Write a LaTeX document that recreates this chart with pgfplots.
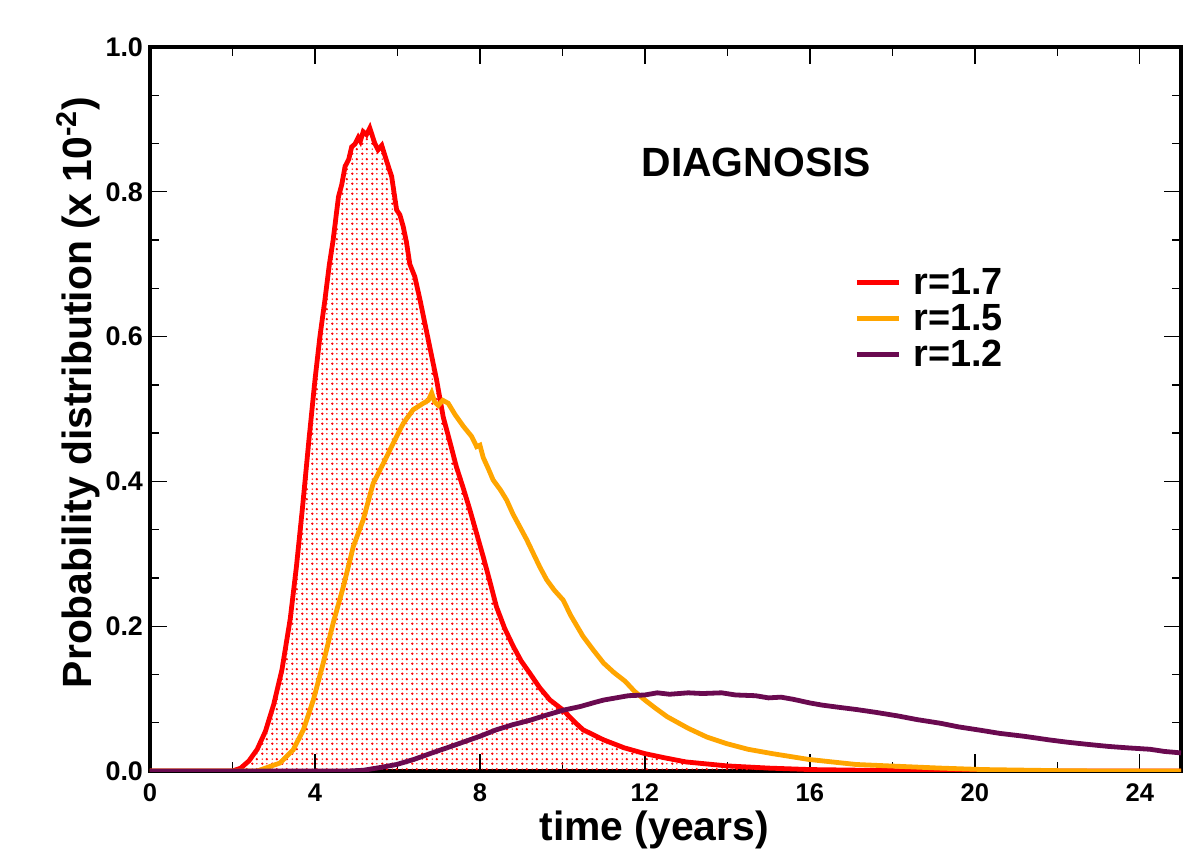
\documentclass[border=0pt]{standalone}
\usepackage{pgfplots}
\pgfplotsset{compat=1.18}
\usepackage{pgfplotstable}
\usepackage{fontspec}
\setmainfont{Liberation Sans}
\usetikzlibrary{patterns}
\definecolor{cRed}{RGB}{255,0,0}
\definecolor{cOrange}{RGB}{255,165,0}
\definecolor{cPurple}{RGB}{106,10,80}
\pgfdeclarepatternformonly{mydots}{\pgfqpoint{0bp}{0bp}}{\pgfqpoint{5bp}{5bp}}{\pgfqpoint{5bp}{5bp}}{%
  \pgfpathcircle{\pgfqpoint{1.25bp}{1.25bp}}{0.7bp}%
  \pgfpathcircle{\pgfqpoint{3.75bp}{3.75bp}}{0.7bp}%
  \pgfpathcircle{\pgfqpoint{3.75bp}{1.25bp}}{0.4bp}%
  \pgfpathcircle{\pgfqpoint{1.25bp}{3.75bp}}{0.4bp}%
  \pgfusepath{fill}}

\pgfplotstableread{
x y
0 0
2.0 0
2.2 0.004
2.4 0.014
2.6 0.030
2.8 0.055
3.0 0.092
3.2 0.14
3.4 0.21
3.55 0.282
3.7 0.365
3.85 0.455
4.0 0.54
4.12 0.60
4.24 0.65
4.35 0.70
4.44 0.733
4.57 0.793
4.65 0.81
4.73 0.835
4.82 0.845
4.89 0.862
4.97 0.866
5.05 0.875
5.1 0.87
5.17 0.883
5.25 0.879
5.33 0.888
5.45 0.867
5.53 0.858
5.62 0.864
5.74 0.842
5.86 0.821
5.98 0.775
6.06 0.768
6.14 0.752
6.22 0.73
6.30 0.70
6.42 0.683
6.55 0.65
6.75 0.595
6.95 0.54
7.11 0.489
7.27 0.455
7.43 0.42
7.6 0.39
7.76 0.36
7.92 0.328
8.08 0.296
8.24 0.262
8.40 0.227
8.6 0.197
8.81 0.172
9.0 0.152
9.21 0.135
9.45 0.115
9.70 0.098
10.02 0.084
10.29 0.068
10.5 0.057
11.0 0.043
11.5 0.032
12.0 0.024
12.5 0.018
13.0 0.0125
14.0 0.007
15.0 0.004
16.0 0.002
18 0.0005
20 0
25 0
}\redtab

\pgfplotstableread{
x y
0 0
2.6 0
2.75 0.003
3.15 0.011
3.47 0.029
3.72 0.057
3.96 0.098
4.2 0.149
4.44 0.204
4.69 0.255
4.93 0.31
5.17 0.347
5.41 0.397
5.66 0.425
5.9 0.453
6.14 0.48
6.38 0.499
6.63 0.508
6.75 0.512
6.83 0.522
6.9 0.51
6.99 0.505
7.1 0.512
7.23 0.508
7.4 0.492
7.6 0.476
7.8 0.462
7.92 0.448
8.0 0.45
8.08 0.433
8.2 0.418
8.32 0.402
8.5 0.388
8.65 0.374
8.8 0.355
8.97 0.337
9.13 0.32
9.29 0.301
9.45 0.282
9.62 0.264
9.8 0.25
10.02 0.236
10.2 0.215
10.5 0.186
10.75 0.167
11.0 0.149
11.25 0.136
11.52 0.124
11.75 0.11
12.0 0.098
12.25 0.087
12.54 0.075
13.05 0.059
13.5 0.047
13.97 0.038
14.5 0.030
15.09 0.024
15.97 0.016
17.12 0.009
17.93 0.007
19.16 0.004
20.2 0.002
22 0.0005
23 0
25 0
}\orangetab

\pgfplotstableread{
x y
0 0
4.8 0
5.17 0.001
5.6 0.005
5.98 0.009
6.4 0.016
6.79 0.024
7.2 0.032
7.6 0.040
8.0 0.048
8.4 0.057
8.8 0.064
9.21 0.070
9.6 0.077
10.02 0.084
10.43 0.089
10.8 0.095
11.0 0.098
11.3 0.101
11.6 0.104
12.0 0.105
12.3 0.108
12.6 0.106
13.05 0.108
13.4 0.107
13.86 0.108
14.2 0.105
14.68 0.104
15.0 0.101
15.3 0.102
15.6 0.099
16.0 0.094
16.3 0.091
16.7 0.088
17.12 0.085
17.6 0.081
18.14 0.076
18.6 0.071
19.16 0.066
19.6 0.061
20.17 0.056
20.6 0.052
21.19 0.048
21.8 0.043
22.21 0.040
22.7 0.037
23.23 0.034
23.7 0.032
24.25 0.030
24.6 0.027
25 0.025
}\purpletab

\begin{document}
\begin{tikzpicture}
\begin{axis}[
  scale only axis,
  width=515.5bp, height=362bp,
  xmin=0, xmax=25, ymin=0, ymax=1,
  xtick={0,4,...,24}, minor x tick num=1,
  ytick={0,0.2,0.4,0.6,0.8,1.0}, minor y tick num=2,
  tick align=inside,
  major tick length=8.5bp, minor tick length=4.5bp,
  axis line style={line width=2bp},
  every tick/.style={black, line width=0.7bp},
  /pgf/number format/assume math mode=true,
  yticklabel style={/pgf/number format/fixed, /pgf/number format/fixed zerofill, /pgf/number format/precision=1, font=\bfseries\fontsize{13.5}{15}\selectfont},
  xticklabel style={yshift=-2.8bp, font=\bfseries\fontsize{12.8}{15}\selectfont},
  xlabel={time (years)},
  ylabel={Probability distribution (x 10\textsuperscript{-2})},
  label style={font=\bfseries\fontsize{20.5}{22}\selectfont},
  xlabel style={at={(rel axis cs:0.489,0)}, anchor=center, yshift=-29.5bp},
  ylabel style={at={([xshift=-36bp]rel axis cs:0,0.523)}, anchor=center},
  legend style={at={(rel axis cs:0.677,0.705)}, anchor=north west, draw=none, fill=none,
    font=\bfseries\fontsize{19}{20}\selectfont, row sep=0.5bp,
    nodes={inner xsep=6bp, inner ysep=1.5bp}},
  legend cell align=left,
  legend image code/.code={\draw[#1, line width=2.5bp] (0bp,0bp) -- (21bp,0bp);},
]
\addplot[draw=none, pattern=mydots, pattern color=cRed, forget plot] table[x=x,y=y]{\redtab} \closedcycle;
\addplot[cRed, line width=2.4bp] table[x=x,y=y]{\redtab};
\addlegendentry{r=1.7}
\addplot[cOrange, line width=2.4bp] table[x=x,y=y]{\orangetab};
\addlegendentry{r=1.5}
\addplot[cPurple, line width=2.4bp] table[x=x,y=y]{\purpletab};
\addlegendentry{r=1.2}
\node[font=\bfseries\fontsize{20.5}{21}\selectfont] at (axis cs:14.7,0.841) {DIAGNOSIS};
\coordinate (ll) at (rel axis cs:0,0);
\coordinate (ur) at (rel axis cs:1,1);
\end{axis}
\pgfresetboundingbox
\useasboundingbox ([shift={(-75bp,-47.5bp)}]ll) rectangle ([shift={(9.5bp,23.5bp)}]ur);
\end{tikzpicture}
\end{document}
